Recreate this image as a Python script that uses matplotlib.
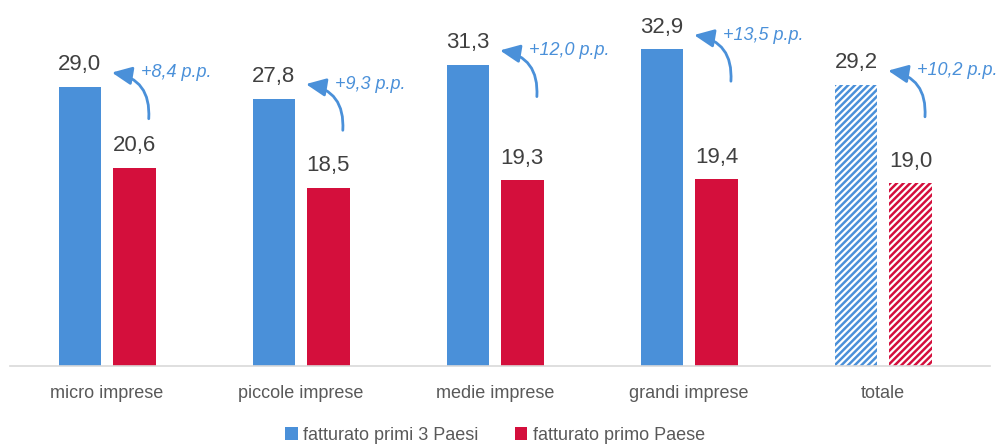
import numpy as np
import matplotlib.pyplot as plt

plt.rcParams['font.family'] = ['Liberation Sans', 'DejaVu Sans']
plt.rcParams['hatch.linewidth'] = 1.8

# Data
categorie = ['micro imprese', 'piccole imprese', 'medie imprese', 'grandi imprese', 'totale']
primi_3 = [29.0, 27.8, 31.3, 32.9, 29.2]
primo = [20.6, 18.5, 19.3, 19.4, 19.0]
differenze = ['+8,4 p.p.', '+9,3 p.p.', '+12,0 p.p.', '+13,5 p.p.', '+10,2 p.p.']
serie = ['fatturato primi 3 Paesi', 'fatturato primo Paese']

blu = '#4A90D9'
rosso = '#D40F3C'

fig = plt.figure(figsize=(10, 4.45), dpi=100)
ax = fig.add_axes([0.01, (445 - 366) / 445, 0.98, (366 - 10) / 445])

x = np.arange(len(categorie))
w = 0.22
off = 0.14

for i in range(len(categorie)):
    tot = categorie[i] == 'totale'
    for val, dx, col, lab in [(primi_3[i], -off, blu, serie[0]), (primo[i], off, rosso, serie[1])]:
        if tot:
            ax.bar(x[i] + dx, val, w, color='white', edgecolor=col, linewidth=0, hatch='/////')
        else:
            ax.bar(x[i] + dx, val, w, color=col, label=lab if i == 0 else None)
        ax.annotate(f'{val:.1f}'.replace('.', ','), (x[i] + dx, val), xytext=(0, 12),
                    textcoords='offset points', ha='center', va='baseline',
                    fontsize=16, color='#404040')

    # curved arrow pointing at the first-3-countries label
    ax.annotate('', xy=(x[i] + 0.025, primi_3[i] + 1.5), xytext=(x[i] + 0.215, primi_3[i] - 3.3),
                arrowprops=dict(arrowstyle='-|>,head_length=1.2,head_width=0.55', color=blu,
                                lw=2, connectionstyle='arc3,rad=0.45', shrinkA=0, shrinkB=0))
    ax.text(x[i] + 0.175, primi_3[i] + 1.5, differenze[i], fontsize=13, style='italic',
            color=blu, va='center', ha='left')

ax.set_xlim(-0.5, len(categorie) - 0.45)
ax.set_ylim(0, 37)
ax.set_yticks([])
ax.set_xticks(x)
ax.set_xticklabels(categorie, fontsize=13, color='#595959')
ax.tick_params(axis='x', length=0, pad=14)
for s in ['top', 'right', 'left']:
    ax.spines[s].set_visible(False)
ax.spines['bottom'].set_color('#D9D9D9')
ax.spines['bottom'].set_linewidth(1.2)

leg = fig.legend(loc='center', bbox_to_anchor=(0.495, 10 / 445), ncol=2,
                 frameon=False, fontsize=13, handlelength=0.7, handleheight=0.7,
                 handletextpad=0.3, columnspacing=2.0)
for t in leg.get_texts():
    t.set_color('#595959')

fig.savefig('out.png', dpi=100)
